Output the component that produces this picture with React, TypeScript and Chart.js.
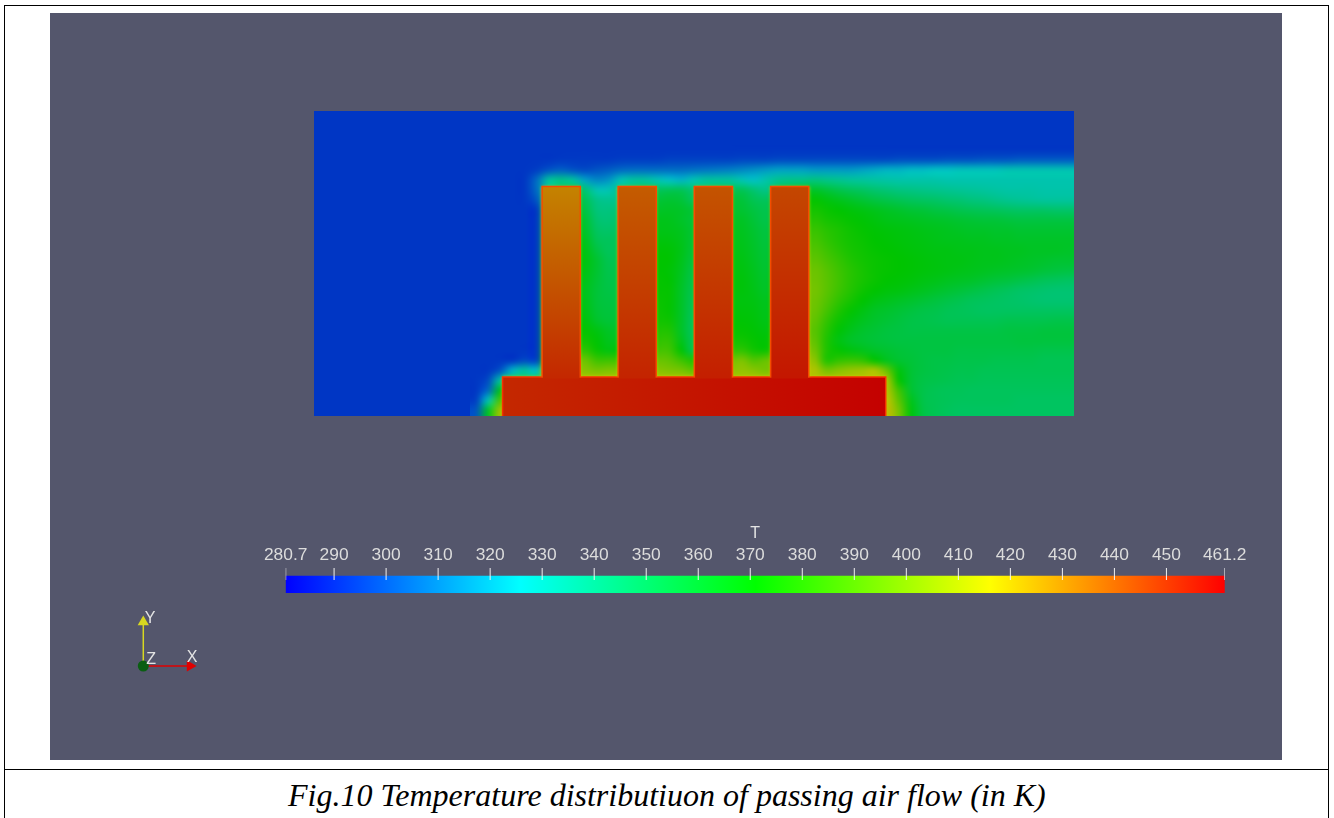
import React, { useEffect, useRef } from "react";
import { Chart, registerables } from "chart.js";

Chart.register(...registerables);

const PANEL = "#54566c";
const FIELD_W = 760;
const FIELD_H = 305;
const GRID_X0 = 156;
const GRID_TOP = 271;
const CELL_W = 12.08;
const CELL_H = 10.02;
const AMBIENT_T = 293;
const SHADE = 0.77;

const finX = [247.2, 323.2, 399.4, 475.7];
const finTopT = [431, 440, 442, 445];
const finBottomT = [452, 453, 454, 456];
const finWidth = 39;
const finTop = 230;
const baseTop = 39.3;
const baseX = 380.15;
const baseWidth = 384;
const baseLeftT = 452;
const baseRightT = 461;

const scaleMin = 280.7;
const scaleMax = 461.2;
const tickValues = [280.7, 290, 300, 310, 320, 330, 340, 350, 360, 370, 380, 390, 400, 410, 420, 430, 440, 450, 461.2];
const tickLabels = ["280.7", "290", "300", "310", "320", "330", "340", "350", "360", "370", "380", "390", "400", "410", "420", "430", "440", "450", "461.2"];
const mapValues = [280.7, 325.8, 371, 416.1, 461.2];
const mapColors = [[0, 0, 255], [0, 255, 255], [0, 255, 0], [255, 255, 0], [255, 0, 0]];

const B = 293;
const fieldRows: number[][] = [
[B,B,B,B,B,B, B,B,B, B,B,B, B,B,B,B, B,B,B, B,B,B, B,B,B, B,B,B, B,B,B,B,B,B,B,B,B,B,B,B,B,B,B,B,B,B,B,B,B,B],
[B,B,B,B,B,B, 293,294,294, 294,294,294, 295,295,295,295, 296,296,296, 296,296,296, 297,297,297, 298,298,298, 298,298,298,298,298,298,298,299,299,299,299,300,300,300,301,301,301,302,302,302,302,302],
[B,B,B,B,B,295, 300,303,300, 298,300,302, 305,306,306,306, 306,306,307, 308,309,310, 312,314,316, 318,318,318, 316,316,316,316,318,320,322,322,324,324,326,326,328,328,328,328,330,330,330,330,330,330],
[B,B,B,B,B,305, 335,340,335, 318,312,315, 330,335,335,330, 325,322,330, 335,335,335, 330,325,332, 338,340,340, 342,340,338,336,335,334,333,332,332,332,332,331,331,331,331,331,331,331,331,331,331,331],
[B,B,B,B,B,305, 335,345,350, 345,330,330, 340,345,350,350, 352,352,345, 345,350,350, 352,345,340, 350,355,360, 362,358,354,351,349,346,344,342,341,340,339,338,337,336,335,334,333,333,333,332,332,332],
[B,B,B,B,B,300, 340,350,355, 352,340,338, 340,348,355,358, 360,358,350, 350,355,358, 358,352,350, 355,362,368, 372,368,365,362,359,356,354,352,350,349,348,346,345,343,342,340,338,337,336,335,335,335],
[B,B,B,B,B,B, 345,355,358, 356,343,342, 345,350,360,362, 363,362,358, 355,358,360, 360,356,353, 358,365,372, 376,373,371,369,367,365,363,361,359,358,356,355,353,352,351,350,349,348,348,348,347,347],
[B,B,B,B,B,B, 348,358,362, 360,346,344, 348,352,362,365, 365,362,358, 358,360,362, 363,358,354, 360,368,375, 380,376,374,372,370,368,366,365,364,363,362,361,360,359,358,358,357,356,356,356,356,356],
[B,B,B,B,B,B, 350,360,363, 362,349,347, 350,355,364,366, 366,364,359, 360,362,364, 364,360,356, 362,372,380, 384,380,377,374,372,370,369,368,367,366,365,364,363,362,362,361,361,360,360,360,360,360],
[B,B,B,B,B,B, 352,362,365, 365,352,350, 352,358,366,368, 368,365,359, 362,364,365, 365,361,357, 364,374,383, 387,382,378,375,373,371,370,369,368,367,366,365,365,364,364,363,363,362,362,362,362,362],
[B,B,B,B,B,B, 354,364,367, 367,356,350, 354,360,367,370, 370,366,358, 364,365,366, 366,362,358, 366,376,386, 390,385,380,376,374,372,371,370,369,368,367,367,366,366,365,365,364,364,363,363,363,362],
[B,B,B,B,B,B, 355,365,368, 368,360,352, 355,361,368,371, 371,365,357, 365,366,367, 367,363,359, 367,378,389, 393,388,383,378,375,373,372,371,370,369,368,367,367,366,365,365,364,363,362,361,360,360],
[B,B,B,B,B,B, 356,365,368, 367,360,353, 356,361,368,371, 370,364,355, 365,366,367, 368,364,360, 368,380,392, 396,391,385,380,376,373,372,371,370,369,368,367,366,365,364,363,362,361,360,358,357,356],
[B,B,B,B,B,B, 357,365,367, 366,359,354, 356,360,368,372, 371,363,354, 365,366,368, 369,365,361, 370,382,394, 397,392,386,380,376,373,371,370,369,367,366,364,363,362,360,358,357,355,353,351,350,349],
[B,B,B,B,B,B, 358,365,366, 365,358,355, 356,360,369,372, 372,362,353, 365,366,368, 369,366,362, 370,384,395, 398,392,385,379,374,371,369,368,366,364,362,360,358,356,354,352,350,348,347,346,345,345],
[B,B,B,B,B,B, 359,366,366, 366,358,356, 357,360,369,373, 372,362,352, 365,367,368, 368,367,364, 372,385,395, 397,390,382,376,371,367,365,363,361,359,357,355,353,351,350,349,348,347,346,345,345,345],
[B,B,B,B,B,B, 360,366,367, 367,359,357, 358,361,370,374, 372,362,351, 365,367,369, 369,368,365, 373,385,394, 396,387,378,372,367,363,361,359,357,355,354,352,351,350,349,349,349,349,349,349,349,349],
[B,B,B,B,B,B, 361,367,368, 369,361,358, 360,362,371,375, 374,362,350, 365,368,370, 370,369,366, 374,385,392, 394,383,374,368,364,361,359,357,355,354,353,352,352,352,352,352,353,353,353,353,354,354],
[B,B,B,B,B,B, 362,368,370, 372,367,362, 362,364,372,378, 378,362,350, 366,370,372, 372,370,368, 376,385,390, 392,380,370,365,361,359,357,356,355,355,355,355,355,355,355,355,356,356,356,357,357,357],
[B,B,B,B,B,B, 364,370,372, 375,370,364, 365,366,374,381, 382,365,351, 368,372,374, 375,372,370, 380,388,392, 394,378,367,362,360,358,357,356,356,356,356,356,356,356,356,356,356,357,357,357,357,357],
[B,B,B,B,B,B, 366,372,378, 382,373,367, 370,368,378,386, 386,370,352, 370,375,380, 382,375,373, 385,392,398, 398,378,372,368,365,362,360,358,357,356,356,356,355,355,355,355,355,355,355,354,354,354],
[B,B,B,B,298,296, 372,385,395, 396,385,385, 385,385,390,395, 393,385,378, 385,390,395, 400,390,395, 398,400,402, 405,378,382,384,382,372,364,360,358,356,355,355,354,354,354,353,353,353,353,352,352,352],
[B,B,300,322,335,325, 395,400,403, 402,398,400, 400,400,402,402, 400,398,392, 395,400,402, 405,402,398, 402,405,408, 412,398,402,406,408,412,395,368,359,356,355,354,353,353,352,352,352,352,352,352,352,352],
[B,298,335,345,345,345, 410,410,410, 410,410,410, 410,410,410,410, 410,410,410, 410,410,410, 410,410,410, 410,410,410, 410,410,410,410,410,410,410,372,359,355,354,353,352,352,351,351,351,351,351,351,351,351],
[B,305,365,410,410,410, 410,410,410, 410,410,410, 410,410,410,410, 410,410,410, 410,410,410, 410,410,410, 410,410,410, 410,410,410,410,410,410,412,385,360,354,352,351,351,350,350,350,350,350,350,350,350,350],
[295,330,388,410,410,410, 410,410,410, 410,410,410, 410,410,410,410, 410,410,410, 410,410,410, 410,410,410, 410,410,410, 410,410,410,410,410,410,415,392,365,354,352,351,350,350,350,350,350,349,349,349,349,349],
[300,362,408,410,410,410, 410,410,410, 410,410,410, 410,410,410,410, 410,410,410, 410,410,410, 410,410,410, 410,410,410, 410,410,410,410,410,410,418,398,368,355,352,350,349,349,349,349,349,349,349,349,349,349],
];

function tempRgb(t: number): number[] {
  if (t <= mapValues[0]) return mapColors[0];
  for (let i = 1; i < mapValues.length; i++) {
    if (t <= mapValues[i]) {
      const f = (t - mapValues[i - 1]) / (mapValues[i] - mapValues[i - 1]);
      return mapColors[i].map((c, k) => mapColors[i - 1][k] + (c - mapColors[i - 1][k]) * f);
    }
  }
  return mapColors[mapColors.length - 1];
}
function shaded(t: number): string {
  const [r, g, b] = tempRgb(t);
  return `rgb(${Math.round(r * SHADE)},${Math.round(g * SHADE)},${Math.round(b * SHADE)})`;
}

const fieldPoints = fieldRows.flatMap((row, j) =>
  row.map((v, i) => ({ x: GRID_X0 + CELL_W * (i + 0.5), y: GRID_TOP - CELL_H * (j + 0.5), v }))
);

const fieldImagePlugin = {
  id: "fieldImage",
  beforeDatasetDraw(chart: any, args: any) {
    const ds = chart.data.datasets[args.index];
    if (ds.label === "T field") {
      const cols = fieldRows[0].length;
      const rows = fieldRows.length;
      const off = document.createElement("canvas");
      off.width = cols;
      off.height = rows;
      const octx = off.getContext("2d")!;
      const img = octx.createImageData(cols, rows);
      ds.data.forEach((p: any, n: number) => {
        const [r, g, b] = tempRgb(p.v);
        img.data[n * 4] = r * SHADE;
        img.data[n * 4 + 1] = g * SHADE;
        img.data[n * 4 + 2] = b * SHADE;
        img.data[n * 4 + 3] = 255;
      });
      octx.putImageData(img, 0, 0);
      const { x, y } = chart.scales;
      const left = x.getPixelForValue(GRID_X0);
      const right = x.getPixelForValue(GRID_X0 + CELL_W * cols);
      const top = y.getPixelForValue(GRID_TOP);
      const bottom = y.getPixelForValue(GRID_TOP - CELL_H * rows);
      const ctx = chart.ctx;
      ctx.save();
      ctx.imageSmoothingEnabled = true;
      (ctx as any).imageSmoothingQuality = "high";
      ctx.drawImage(off, left, top, right - left, bottom - top);
      ctx.restore();
    }
    if (ds.label === "Solid outline") {
      chart.ctx.save();
      chart.ctx.shadowColor = "rgba(215,205,0,0.9)";
      chart.ctx.shadowBlur = 3;
    }
  },
  afterDatasetDraw(chart: any, args: any) {
    if (chart.data.datasets[args.index].label === "Solid outline") chart.ctx.restore();
  },
};

function finFill(c: any) {
  const { chart, dataIndex } = c;
  const y = chart.scales.y;
  const i = dataIndex ?? 0;
  const a = y ? y.getPixelForValue(finTop) : NaN;
  const b = y ? y.getPixelForValue(baseTop) : NaN;
  if (!Number.isFinite(a) || !Number.isFinite(b)) return shaded(finTopT[i]);
  const g = chart.ctx.createLinearGradient(0, a, 0, b);
  g.addColorStop(0, shaded(finTopT[i]));
  g.addColorStop(1, shaded(finBottomT[i]));
  return g;
}
function baseFill(c: any) {
  const { chart } = c;
  const x = chart.scales.x;
  const a = x ? x.getPixelForValue(baseX - baseWidth / 2) : NaN;
  const b = x ? x.getPixelForValue(baseX + baseWidth / 2) : NaN;
  if (!Number.isFinite(a) || !Number.isFinite(b)) return shaded(baseLeftT);
  const g = chart.ctx.createLinearGradient(a, 0, b, 0);
  g.addColorStop(0, shaded(baseLeftT));
  g.addColorStop(1, shaded(baseRightT));
  return g;
}
function barGradient(c: any) {
  const { chart } = c;
  const x = chart.scales.x;
  const a = x ? x.getPixelForValue(scaleMin) : NaN;
  const b = x ? x.getPixelForValue(scaleMax) : NaN;
  if (!Number.isFinite(a) || !Number.isFinite(b)) return "#00f";
  const g = chart.ctx.createLinearGradient(a, 0, b, 0);
  mapValues.forEach((v, i) => {
    const [r, gg, bb] = mapColors[i];
    g.addColorStop((v - scaleMin) / (scaleMax - scaleMin), `rgb(${r},${gg},${bb})`);
  });
  return g;
}

const triadLabels = [
  { text: "X", x: 0.94, y: 0.18 },
  { text: "Y", x: 0.13, y: 0.96 },
  { text: "Z", x: 0.15, y: 0.14 },
];
const triadLabelPlugin = {
  id: "triadLabels",
  afterDatasetsDraw(chart: any) {
    const { ctx, scales } = chart;
    ctx.save();
    ctx.font = "16px 'Liberation Sans'";
    ctx.fillStyle = "#e4e4e4";
    ctx.textAlign = "center";
    ctx.textBaseline = "middle";
    triadLabels.forEach((l) => ctx.fillText(l.text, scales.x.getPixelForValue(l.x), scales.y.getPixelForValue(l.y)));
    ctx.restore();
  },
};

const hidden = { display: false };

export default function App() {
  const fieldRef = useRef<HTMLCanvasElement>(null);
  const barRef = useRef<HTMLCanvasElement>(null);
  const triadRef = useRef<HTMLCanvasElement>(null);

  useEffect(() => {
    document.body.style.background = "#fff";
    const field = new Chart(fieldRef.current!, {
      type: "bar",
      plugins: [fieldImagePlugin],
      data: {
        datasets: [
          { type: "bar", label: "Ambient", order: 5, data: [{ x: FIELD_W / 2, y: [0, FIELD_H] }], barThickness: FIELD_W, grouped: false, backgroundColor: shaded(AMBIENT_T) },
          { type: "scatter", label: "T field", order: 4, data: fieldPoints, pointRadius: 0 },
          { type: "bar", label: "Solid outline", order: 3, data: finX.map((x) => ({ x, y: [baseTop, finTop] })), barThickness: finWidth, grouped: false, backgroundColor: "rgb(245,75,0)" },
          { type: "bar", label: "Solid outline", order: 3, data: [{ x: baseX, y: [0, baseTop] }], barThickness: baseWidth, grouped: false, backgroundColor: "rgb(245,50,0)" },
          { type: "bar", label: "Base", order: 2, data: [{ x: baseX, y: [0, baseTop - 1.5] }], barThickness: baseWidth - 3, grouped: false, backgroundColor: baseFill },
          { type: "bar", label: "Fins", order: 1, data: finX.map((x) => ({ x, y: [baseTop - 1.5, finTop - 1.5] })), barThickness: finWidth - 3, grouped: false, backgroundColor: finFill },
        ] as any,
      },
      options: {
        animation: false,
        responsive: false,
        layout: { padding: 0, autoPadding: false },
        plugins: { legend: hidden, title: hidden, tooltip: { enabled: false } },
        scales: {
          x: { type: "linear", min: 0, max: FIELD_W, display: false, offset: false },
          y: { type: "linear", min: 0, max: FIELD_H, display: false },
        },
      } as any,
    });

    const bar = new Chart(barRef.current!, {
      type: "bar",
      data: {
        datasets: [
          { type: "line", label: "Ticks", order: 1, showLine: true, spanGaps: false, borderColor: "#f2f2f2", borderWidth: 1, pointRadius: 0,
            data: tickValues.flatMap((v) => [{ x: v, y: 13 }, { x: v, y: 25 }, { x: v, y: null }]) },
          { type: "bar", label: "T", order: 2, data: [{ x: (scaleMin + scaleMax) / 2, y: [0, 17] }], barThickness: 939, grouped: false, backgroundColor: barGradient },
        ] as any,
      },
      options: {
        animation: false,
        responsive: false,
        layout: { padding: { left: 45.7, right: 45.3, top: 0.4, bottom: 7 }, autoPadding: false },
        plugins: { legend: hidden, title: hidden, tooltip: { enabled: false } },
        scales: {
          x: {
            type: "linear",
            position: "top",
            min: scaleMin,
            max: scaleMax,
            offset: false,
            afterBuildTicks: (s: any) => { s.ticks = tickValues.map((value) => ({ value })); },
            afterFit: (s: any) => { s.height = 43.6; },
            grid: { display: false, drawTicks: false },
            border: { display: false },
            title: { display: true, text: "T", color: "#e4e4e4", font: { family: "'Liberation Sans'", size: 16 }, padding: { top: 0, bottom: 0 } },
            ticks: {
              color: "#dcdcdc",
              font: { family: "'Liberation Sans'", size: 17.4 },
              autoSkip: false,
              maxRotation: 0,
              padding: 2,
              callback: (_v: any, i: number) => tickLabels[i],
            },
          },
          y: { type: "linear", min: 0, max: 25, display: false },
        },
      } as any,
    });

    const triad = new Chart(triadRef.current!, {
      type: "scatter",
      plugins: [triadLabelPlugin],
      data: {
        datasets: [
          { label: "X", data: [{ x: 0, y: 0 }, { x: 0.9, y: 0 }], showLine: true, borderColor: "#e00000", backgroundColor: "#e00000", borderWidth: 1.5, pointRadius: [0, 6.5], pointStyle: "triangle", pointRotation: 90, pointBorderWidth: 0 },
          { label: "Y", data: [{ x: 0, y: 0 }, { x: 0, y: 0.9 }], showLine: true, borderColor: "#d8d820", backgroundColor: "#d8d820", borderWidth: 1.5, pointRadius: [0, 6.5], pointStyle: "triangle", pointBorderWidth: 0 },
          { label: "Z", data: [{ x: 0, y: 0 }], backgroundColor: "#0a5e12", pointRadius: 5.5, pointBorderWidth: 0, order: -1 },
        ] as any,
      },
      options: {
        animation: false,
        responsive: false,
        layout: { padding: 0, autoPadding: false },
        plugins: { legend: hidden, title: hidden, tooltip: { enabled: false } },
        scales: {
          x: { type: "linear", min: -0.448, max: 1.283, display: false },
          y: { type: "linear", min: -0.286, max: 1.347, display: false },
        },
      } as any,
    });

    field.update();
    bar.update();

    return () => {
      field.destroy();
      bar.destroy();
      triad.destroy();
    };
  }, []);

  const abs = (l: number, t: number, w: number, h: number): React.CSSProperties => ({ position: "absolute", left: l, top: t, width: w, height: h });

  return (
    <div style={{ position: "absolute", left: 0, top: 0, width: 1334, height: 818, overflow: "hidden", background: "#fff" }}>
      <div style={{ ...abs(4, 5, 1323, 830), border: "1px solid #000", boxSizing: "content-box" }} />
      <div style={{ ...abs(4, 769, 1324, 1), background: "#000" }} />
      <div style={{ ...abs(50, 13, 1232, 747), background: PANEL }} />
      <canvas ref={fieldRef} width={FIELD_W} height={FIELD_H} style={{ ...abs(314, 111, FIELD_W, FIELD_H), display: "block" }} />
      <canvas ref={barRef} width={1030} height={76} style={{ ...abs(240, 524, 1030, 76), display: "block" }} />
      <canvas ref={triadRef} width={90} height={80} style={{ ...abs(120, 600, 90, 80), display: "block" }} />
      <div style={{ position: "absolute", left: 288, top: 775, whiteSpace: "nowrap", fontFamily: "'Liberation Serif', serif", fontStyle: "italic", fontSize: 32, lineHeight: "40px", color: "#000" }}>
        Fig.10 Temperature distributiuon of passing air flow (in K)
      </div>
    </div>
  );
}
